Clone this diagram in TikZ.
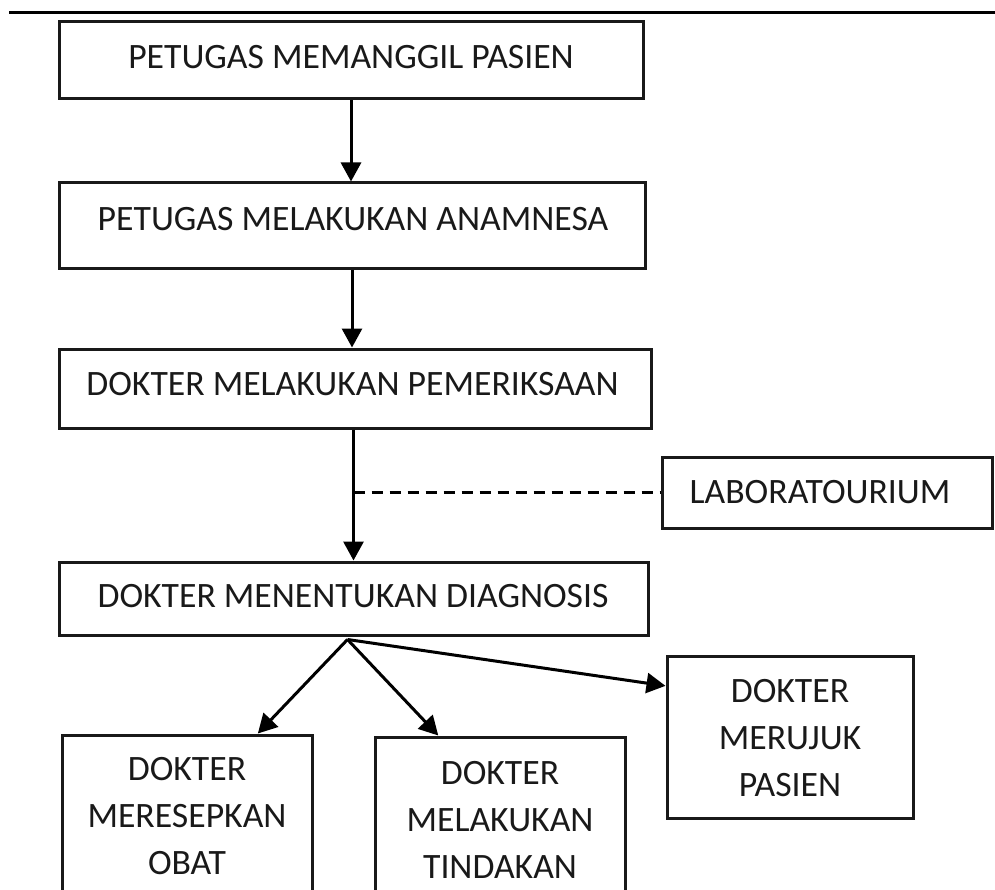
\documentclass[tikz,border=0pt]{standalone}
\usepackage{fontspec}
\setmainfont{Carlito}
\usetikzlibrary{arrows.meta,calc}
\begin{document}
\begin{tikzpicture}[x=1pt,y=-1pt,
  box/.style={draw=black!90, line width=3pt, rectangle, inner sep=0pt},
  txt/.style={font=\fontsize{35.7}{47}\selectfont, align=center, inner sep=0pt, text=black!90},
  arr/.style={line width=3pt, -{Triangle[length=19pt,width=20pt]}},
  dashline/.style={line width=2.4pt, dash pattern=on 11pt off 7pt},
  ]
\useasboundingbox (0,0) rectangle (995,890);
\clip (0,0) rectangle (995,890);
% top rule
\coordinate (ruleL) at (9,13);
\coordinate (ruleR) at (995,13);
\draw[line width=3pt] (ruleL) -- (ruleR);
% boxes
\node[box, minimum width=584pt, minimum height=77pt] (b1) at (351,60.5) {};
\node[box, minimum width=586pt, minimum height=86pt] (b2) at (352,226) {};
\node[box, minimum width=592pt, minimum height=79pt] (b3) at (355,388.5) {};
\node[box, minimum width=589pt, minimum height=73pt] (b4) at (353.5,598.5) {};
\node[box, minimum width=330pt, minimum height=71pt] (lab) at (827,492.5) {};
\node[box, minimum width=250pt, minimum height=163pt] (b5) at (187,816.5) {};
\node[box, minimum width=250pt, minimum height=166pt] (b6) at (500,820) {};
\node[box, minimum width=246pt, minimum height=162pt] (b7) at (790,737) {};
% texts
\node[txt] (t1) at (351,57.5) {PETUGAS MEMANGGIL PASIEN};
\node[txt] (t2) at (353,219) {PETUGAS MELAKUKAN ANAMNESA};
\node[txt] (t3) at (352.5,384.5) {DOKTER MELAKUKAN PEMERIKSAAN};
\node[txt] (t4) at (353,596.5) {DOKTER MENENTUKAN DIAGNOSIS};
\node[txt] (tlab) at (820,492.5) {LABORATOURIUM};
\node[txt] (t5) at (187,816.5) {DOKTER\\MERESEPKAN\\OBAT};
\node[txt] (t6) at (500,820) {DOKTER\\MELAKUKAN\\TINDAKAN};
\node[txt] (t7) at (790,738) {DOKTER\\MERUJUK\\PASIEN};
% connectors
\draw[arr] (b1.south) -- (b1.south |- b2.north);
\draw[arr] (b2.south) -- (b2.south |- b3.north);
\draw[arr] (b4.north |- b3.south) -- (b4.north);
\draw[dashline] (lab.west -| b4.north) -- (lab.west);
\coordinate (fork) at ($(b4.south)+(-6,3)$);
\draw[arr] (fork) -- ($(b5.north west)!0.78!(b5.north east)$);
\draw[arr] (fork) -- ($(b6.north west)!0.256!(b6.north east)$);
\draw[arr] (fork) -- ($(b7.north west)!0.19!(b7.south west)$);
\end{tikzpicture}
\end{document}
